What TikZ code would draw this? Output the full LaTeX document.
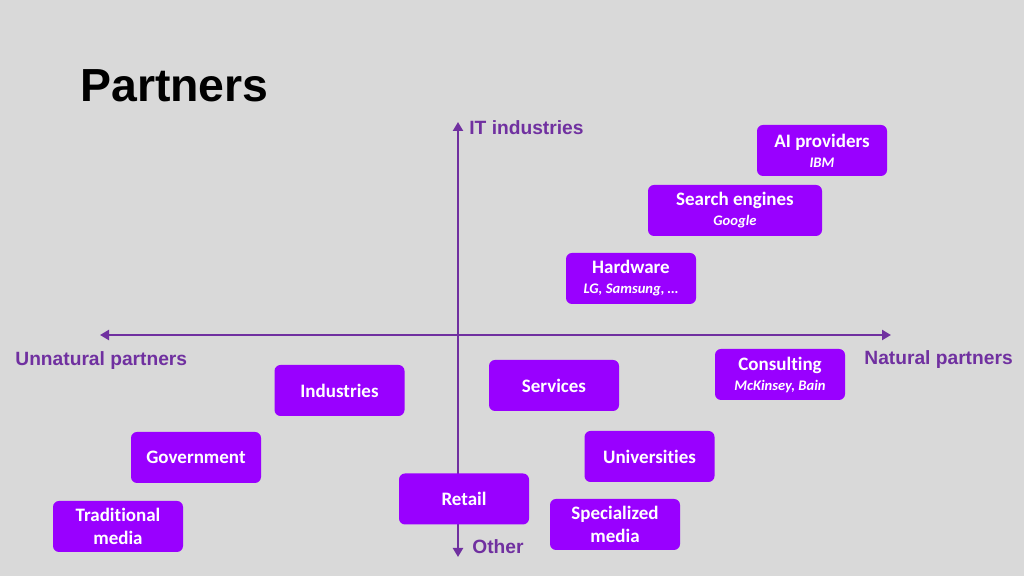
\documentclass[tikz,border=0pt]{standalone}
\usepackage{fontspec}
\setmainfont{Liberation Sans}
\newfontfamily\boxfont[Ligatures=NoCommon]{Carlito}
\usetikzlibrary{arrows.meta}

\definecolor{slidebg}{HTML}{D9D9D9}
\definecolor{axispurple}{HTML}{7030A0}
\definecolor{boxpurple}{HTML}{9900FF}

\newcommand{\sub}[1]{\\[-1.5pt]{\fontsize{7.3}{9}\selectfont\itshape #1}}

\begin{document}
\begin{tikzpicture}[x=0.5pt, y=-0.5pt,
  box/.style={rounded corners=3pt, fill=boxpurple, text=white, minimum width=65pt,
    minimum height=25.5pt, align=center, inner sep=1pt,
    font=\boxfont\bfseries\fontsize{9.5}{11.5}\selectfont},
  axislabel/.style={text=axispurple, inner sep=0pt,
    font=\bfseries\fontsize{9.6}{11}\selectfont},
  axis/.style={axispurple, line width=1.45pt, {Triangle[length=4.5pt,width=5pt]}-{Triangle[length=4.5pt,width=5pt]}}]
  \fill[slidebg] (0,0) rectangle (1024,576);
  \useasboundingbox (0,0) rectangle (1024,576);

  \node[anchor=base west, inner sep=0pt, font=\bfseries\fontsize{23.2}{26}\selectfont] (title) at (80,102) {Partners};

  % axes
  \coordinate (top) at (458,122);
  \coordinate (bottom) at (458,557);
  \coordinate (left) at (100,335);
  \coordinate (right) at (891,335);
  \draw[axis] (bottom) -- (top);
  \draw[axis] (left) -- (right);

  \node[axislabel, anchor=west] (it) at (469,128) {IT industries};
  \node[axislabel, anchor=west] (other) at (472,546.5) {Other};
  \node[axislabel, anchor=west] (unnatural) at (15,361) {Unnatural partners};
  \node[axislabel, anchor=west] (natural) at (864,360) {Natural partners};

  % partners
  \node[box] (ai) at (822,150.5) {AI providers\sub{IBM}};
  \node[box, minimum width=87pt] (search) at (735,210.5) {Search engines\sub{Google}};
  \node[box] (hardware) at (631,278.5) {Hardware\sub{LG, Samsung, \dots}};
  \node[box] (consulting) at (780,374.5) {Consulting\sub{McKinsey, Bain}};
  \node[box] (services) at (554,385.5) {Services};
  \node[box] (industries) at (339.5,390.5) {Industries};
  \node[box] (government) at (196,457.5) {Government};
  \node[box] (universities) at (649.5,456.5) {Universities};
  \node[box] (retail) at (464,499) {Retail};
  \node[box] (specialized) at (615,524.5) {Specialized\\media};
  \node[box] (traditional) at (118,526.5) {Traditional\\media};
\end{tikzpicture}
\end{document}
